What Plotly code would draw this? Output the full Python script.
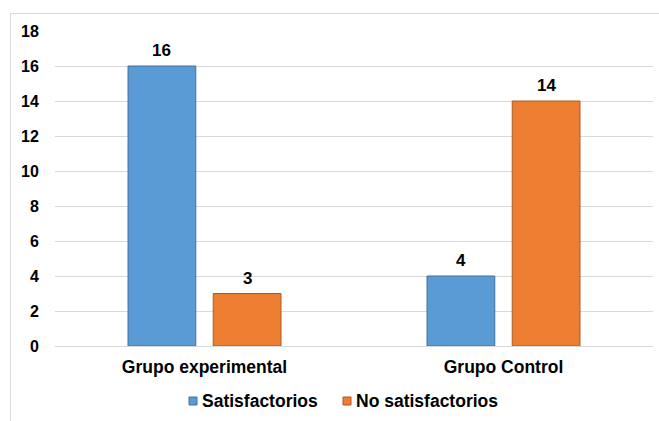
import plotly.graph_objects as go

categories = ["Grupo experimental", "Grupo Control"]
satisfactorios = [16, 4]
no_satisfactorios = [3, 14]
series_names = ["Satisfactorios", "No satisfactorios"]
y_ticks = [0, 2, 4, 6, 8, 10, 12, 14, 16, 18]

FONT = "Arial, 'Liberation Sans', sans-serif"
fill_colors = ["#5B9BD5", "#ED7D31"]
line_colors = ["#41719C", "#AE5A21"]

BARGAP = 0.43
BARGROUPGAP = 0.205

# plot-area geometry (pixels)
L, R, T, B = 55, 6, 31, 75
W, H = 659, 421
PW, PH = W - L - R, H - T - B


def px(xp):
    return (xp - L) / PW


def py(yp):
    return (H - B - yp) / PH


series = [satisfactorios, no_satisfactorios]
fig = go.Figure()
annotations = []
n = len(series)
for k, (name, vals, fc, lc) in enumerate(zip(series_names, series, fill_colors, line_colors)):
    fig.add_trace(go.Bar(
        x=categories, y=vals, name=name,
        marker=dict(color=fc, line=dict(color=lc, width=1)),
        showlegend=False,
    ))
    slot = (1 - BARGAP) / n
    offset = -(1 - BARGAP) / 2 + slot * (k + 0.5)
    for i, v in enumerate(vals):
        annotations.append(dict(
            x=i + offset, y=v, xref="x", yref="y",
            text=f"<b>{v}</b>", showarrow=False,
            yanchor="bottom", yshift=4,
            font=dict(family=FONT, size=17, color="#000000"),
        ))

# manual legend (small squares, tight text gap as in reference)
legend_x = [189, 343]
legend_y = 401
shapes = []
for k, name in enumerate(series_names):
    x0 = legend_x[k]
    shapes.append(dict(
        type="rect", xref="paper", yref="paper",
        x0=px(x0), x1=px(x0 + 8), y0=py(legend_y + 4), y1=py(legend_y - 4),
        fillcolor=fill_colors[k], line=dict(color=line_colors[k], width=1),
    ))
    annotations.append(dict(
        x=px(x0 + 11), y=py(legend_y), xref="paper", yref="paper",
        xanchor="left", yanchor="middle", showarrow=False,
        text=f"<b>{name}</b>",
        font=dict(family=FONT, size=17.5, color="#000000"),
    ))

# chart border (left and top visible)
shapes += [
    dict(type="line", xref="paper", yref="paper",
         x0=px(10.5), x1=px(10.5), y0=py(13.5), y1=py(430),
         line=dict(color="#D9D9D9", width=1)),
    dict(type="line", xref="paper", yref="paper",
         x0=px(10.5), x1=px(670), y0=py(13.5), y1=py(13.5),
         line=dict(color="#D9D9D9", width=1)),
]

fig.update_layout(
    width=W, height=H,
    margin=dict(l=L, r=R, t=T, b=B),
    paper_bgcolor="white", plot_bgcolor="white",
    barmode="group", bargap=BARGAP, bargroupgap=BARGROUPGAP,
    font=dict(family=FONT, color="#000000"),
    showlegend=False,
    xaxis=dict(
        showgrid=False, showline=False, zeroline=False,
        tickfont=dict(family=FONT, size=17.5, color="#000000", weight="bold"),
        ticks="outside", ticklen=5, tickcolor="rgba(0,0,0,0)",
    ),
    yaxis=dict(
        range=[0, 18], tickvals=y_ticks,
        showgrid=True, gridcolor="#D9D9D9", gridwidth=1,
        zeroline=True, zerolinecolor="#D9D9D9", zerolinewidth=1,
        showline=False,
        tickfont=dict(family=FONT, size=16, color="#000000", weight="bold"),
        ticks="outside", ticklen=12, tickcolor="rgba(0,0,0,0)",
    ),
    shapes=shapes,
    annotations=annotations,
)

fig.write_html("out.html")
